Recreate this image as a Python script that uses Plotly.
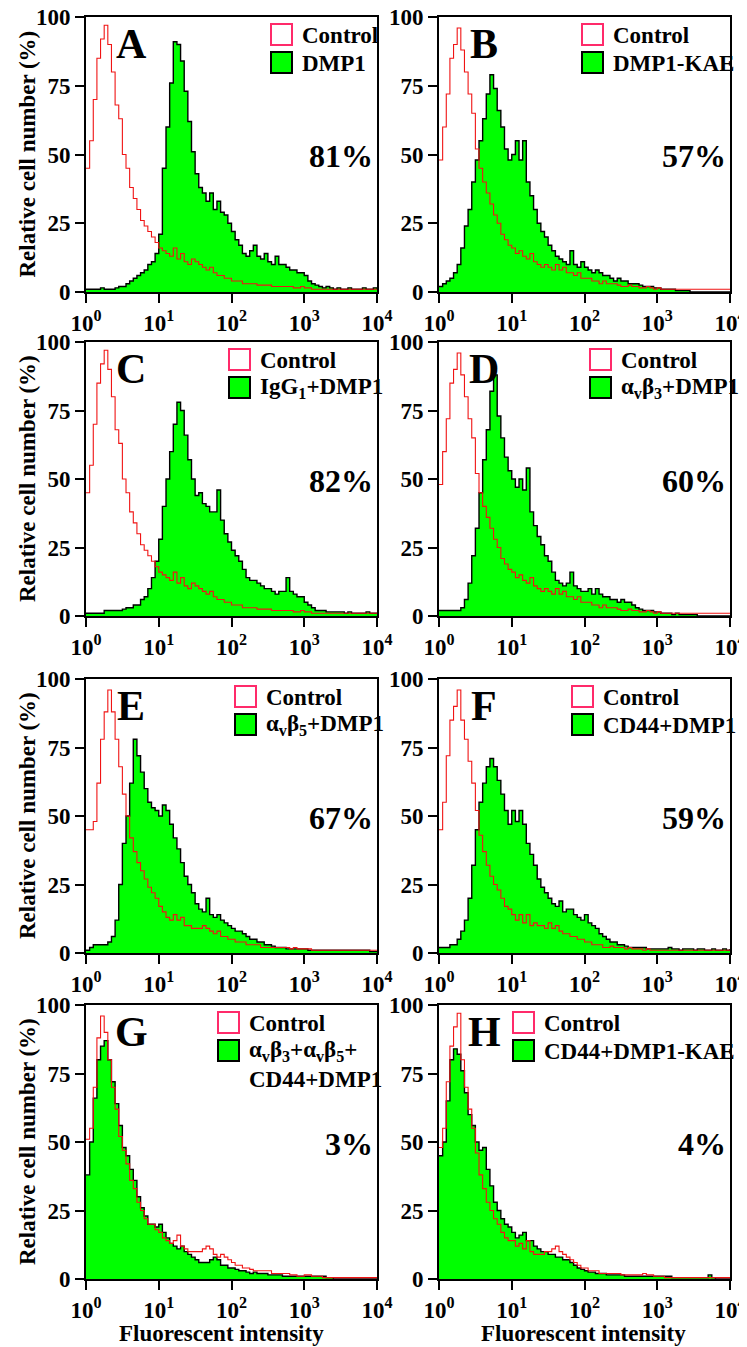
import plotly.graph_objects as go

# ---------------- data ----------------
# histogram channels: position in decades (10^0 .. 10^4), 0.05-decade bins
channel_decades = [round(0.05 * i, 2) for i in range(81)]

ctrl_AC = [45, 55, 70, 85, 92, 97, 90, 80, 68, 63,
           50, 45, 38, 34, 30, 26, 24, 22, 20, 18,
           16, 15, 14, 13, 16, 12, 14, 11, 10, 12,
           11, 10, 9, 8, 9, 7, 6, 6, 5, 5,
           4, 4, 4, 3, 3, 3, 3, 2.5, 2.5, 2.5,
           2.5, 2, 2, 2, 2, 2, 2, 1.5, 1.5, 2,
           1.5, 1.5, 1, 1, 1, 1, 1, 1, 1, 1,
           1, 1, 1, 1, 1, 1, 1, 1, 1, 1, 1]
ctrl_BD = [48, 60, 72, 85, 90, 96, 88, 80, 72, 65,
           52, 45, 40, 36, 32, 28, 25, 21, 19, 17,
           16, 14, 15, 13, 12, 14, 11, 10, 9, 10,
           9, 8, 10, 8, 9, 7, 7, 6, 7, 5,
           5, 5, 4, 4, 3, 4, 3, 3, 3, 2.5,
           2, 2, 2.5, 2, 2, 1.5, 1.5, 2, 1.5, 1,
           1.5, 1, 1, 1, 1, 1, 1, 1, 1, 1,
           1, 1, 1, 1, 1, 1, 1, 1, 1, 1, 1]
ctrl_E = [45, 45, 48, 62, 78, 88, 96, 88, 78, 68,
          58, 50, 42, 37, 33, 30, 27, 24, 22, 20,
          17, 15, 13, 12, 14, 12, 13, 10, 10, 9,
          9, 9, 10, 9, 8, 7, 8, 6, 6, 5,
          5, 4, 4, 4, 3, 3, 3, 3, 2, 2,
          2, 2, 2, 2, 2, 2, 1.5, 2, 1.5, 1.5,
          1.5, 1.5, 1, 1, 1, 1, 1, 1, 1, 1,
          1, 1, 1, 1, 1, 1, 1, 1, 1, 1, 1]
ctrl_F = [45, 55, 72, 85, 90, 96, 85, 78, 70, 62,
          52, 43, 37, 32, 28, 25, 23, 20, 17, 16,
          14, 12, 14, 11, 14, 10, 11, 10, 10, 9,
          11, 9, 10, 8, 7, 7, 6, 6, 5, 5,
          4, 4, 3, 3, 3, 2, 2, 2.5, 2, 2,
          2, 1.5, 2, 1.5, 1.5, 1.5, 1, 1.5, 1, 1,
          1, 1, 1, 1, 1, 1, 1, 1, 1, 1,
          1, 1, 1, 1, 1, 1, 1, 1, 1, 1, 1]
ctrl_G = [51, 55, 70, 88, 96, 90, 80, 70, 62, 52,
          47, 42, 36, 33, 28, 25, 22, 20, 20, 18,
          17, 15, 14, 13, 14, 16, 12, 11, 10, 10,
          10, 10, 11, 12, 11, 9, 8, 9, 8, 7,
          6, 5, 5, 4, 4, 3.5, 3, 3, 3, 3,
          3, 2, 2, 2, 2, 2, 1.5, 1.5, 1, 1,
          1.5, 1.5, 1, 1, 1, 0.5, 0.5, 0.5, 0.5, 0.5,
          0.5, 0.5, 0.5, 0.5, 0.5, 0.5, 0.5, 0.5, 0.5, 0.5, 0.5]
ctrl_H = [48, 55, 72, 85, 92, 97, 80, 70, 62, 55,
          46, 38, 33, 28, 25, 22, 20, 17, 15, 14,
          14, 12, 13, 11, 14, 10, 9, 9, 9, 10,
          10, 11, 12, 10, 9, 8, 7, 6, 5, 4,
          4, 3, 3, 3, 2, 2, 2, 2, 2, 2,
          1.5, 1.5, 1.5, 1.5, 1.5, 1.5, 2, 1.5, 1.5, 1,
          1, 1, 0.5, 0.5, 0.5, 0.5, 0.5, 0.5, 0.5, 0.5,
          0.5, 0.5, 0.5, 0.5, 0.5, 0.5, 0.5, 0.5, 0.5, 0.5, 0.5]

samp_A = [1, 1, 1, 1, 1.5, 1, 1, 1, 1.5, 2,
          2, 3, 4, 5, 6, 7, 8, 10, 11, 14,
          21, 45, 60, 76, 91, 90, 84, 73, 62, 51,
          43, 38, 36, 33, 36, 30, 33, 29, 28, 25,
          22, 19, 17, 14, 13, 15, 17, 13, 12, 14,
          11, 10, 13, 10, 10, 9, 8, 8, 7, 7,
          6, 4, 3, 2.5, 2, 1.5, 2, 1.5, 1, 1.5,
          1, 1, 1.5, 1, 1, 1, 1.5, 1, 1, 1.5, 1]
samp_B = [2, 3, 4, 5, 7, 10, 16, 24, 30, 40,
          48, 55, 63, 72, 79, 74, 66, 60, 52, 48,
          50, 55, 48, 55, 40, 35, 30, 25, 22, 20,
          17, 15, 13, 12, 11, 10, 15, 10, 9, 11,
          9, 8, 7, 8, 7, 6, 6, 5, 4, 5,
          4, 4, 3, 3, 3, 2.5, 2, 2, 2, 1.5,
          1.5, 1, 1, 1, 1, 0.5, 0.5, 0.5, 0.5, 0,
          0, 0, 0, 0, 0, 0, 0, 0, 0, 0, 0]
samp_C = [1, 1, 1, 1, 1, 2, 2, 2, 2, 2,
          2.5, 3, 3, 4, 4, 6, 7, 10, 14, 20,
          28, 40, 50, 60, 70, 78, 75, 66, 57, 50,
          44, 45, 41, 40, 38, 38, 46, 35, 30, 27,
          24, 22, 20, 17, 14, 13, 13, 12, 11, 10,
          10, 9, 8, 9, 9, 14, 9, 8, 7, 7,
          5, 4, 3, 2, 2, 2, 1.5, 1.5, 1.5, 1.5,
          1.5, 1, 1.5, 1, 1, 1, 1, 1.5, 1, 1, 1]
samp_D = [2, 2, 2, 2, 2, 2, 3, 6, 12, 22,
          32, 45, 57, 68, 82, 88, 73, 65, 58, 53,
          50, 47, 50, 46, 54, 38, 33, 29, 26, 22,
          20, 16, 13, 12, 11, 12, 16, 11, 10, 9,
          9, 10, 8, 10, 8, 7, 7, 6, 6, 5,
          6, 5, 5, 4, 3, 2.5, 2, 2, 2, 1.5,
          1.5, 1, 1, 1, 0.5, 1, 0.5, 0.5, 0.5, 0.5,
          0.5, 0, 0, 0, 0, 0, 0, 0, 0, 0, 0]
samp_E = [1, 2, 3, 3, 3, 3, 4, 6, 12, 25,
          40, 50, 62, 78, 72, 66, 60, 55, 53, 52,
          50, 54, 52, 47, 42, 38, 33, 28, 25, 22,
          18, 16, 15, 20, 14, 13, 14, 12, 11, 10,
          9, 8, 8, 7, 6, 5, 5, 4, 4, 3,
          3, 2.5, 2, 2, 2, 1.5, 1.5, 1.5, 1.5, 1.5,
          1.5, 1, 1, 1, 1, 1, 1, 1, 1, 1,
          1, 1, 1, 1, 1, 1, 1, 1, 0.5, 0.5, 0.5]
samp_F = [2, 2, 2, 3, 3, 5, 8, 12, 20, 32,
          45, 55, 62, 68, 71, 68, 63, 58, 52, 47,
          52, 48, 52, 47, 40, 36, 32, 27, 24, 22,
          20, 18, 17, 19, 15, 16, 16, 14, 13, 12,
          14, 11, 10, 9, 7, 6, 5, 4, 4, 3,
          3, 2.5, 2, 2, 2, 2, 2, 1.5, 1.5, 1.5,
          1.5, 1.5, 1.5, 2, 1.5, 1.5, 1, 1.5, 1.5, 1.5,
          1, 1.5, 1.5, 1, 1, 1.5, 1, 1, 1.5, 1, 1.5]
samp_G = [38, 50, 66, 80, 85, 87, 80, 72, 64, 56,
          48, 45, 40, 36, 30, 26, 23, 20, 20, 19,
          20, 17, 15, 13, 12, 11, 12, 10, 9, 8,
          7, 6, 6, 6, 7, 8, 7, 5, 5, 4,
          4, 3.5, 3, 3, 2.5, 2, 2.5, 2, 2, 2,
          1.5, 1.5, 1.5, 1.5, 1, 1, 1, 1, 1, 1,
          1, 1, 1, 1, 1, 1, 0.5, 0.5, 0, 0,
          0, 0, 0, 0, 0, 0, 0, 0, 0, 0, 0]
samp_H = [45, 50, 65, 80, 84, 82, 76, 68, 60, 56,
          50, 47, 48, 40, 34, 28, 25, 22, 20, 19,
          17, 15, 16, 17, 14, 14, 12, 11, 10, 10,
          9, 9, 8, 8, 7, 7, 6, 5, 4, 3.5,
          3, 2.5, 2.5, 2, 2, 2, 1.5, 1.5, 1.5, 1.5,
          1.5, 1, 1, 1, 1, 1, 1, 1, 1, 1,
          1, 1, 1, 1, 0.5, 0.5, 0.5, 0.5, 0.5, 0.5,
          0.5, 0.5, 0.5, 0.5, 1.5, 0.5, 0, 0, 0, 0, 0]

panel_letters = ["A", "B", "C", "D", "E", "F", "G", "H"]
percent_labels = ["81%", "57%", "82%", "60%", "67%", "59%", "3%", "4%"]
control_label = "Control"
sample_labels = ["DMP1", "DMP1-KAE", "IgG<sub>1</sub>+DMP1",
                 "α<sub>v</sub>β<sub>3</sub>+DMP1", "α<sub>v</sub>β<sub>5</sub>+DMP1",
                 "CD44+DMP1",
                 "α<sub>v</sub>β<sub>3</sub>+α<sub>v</sub>β<sub>5</sub>+|CD44+DMP1",
                 "CD44+DMP1-KAE"]
controls = [ctrl_AC, ctrl_BD, ctrl_AC, ctrl_BD, ctrl_E, ctrl_F, ctrl_G, ctrl_H]
samples = [samp_A, samp_B, samp_C, samp_D, samp_E, samp_F, samp_G, samp_H]
x_tick_vals = [1, 10, 100, 1000, 10000]
x_tick_text = ["10<sup>0</sup>", "10<sup>1</sup>", "10<sup>2</sup>", "10<sup>3</sup>", "10<sup>4</sup>"]
y_tick_vals = [0, 25, 50, 75, 100]
y_title = "Relative cell number (%)"
x_title = "Fluorescent intensity"

# ---------------- layout geometry (page pixels) ----------------
PAGE_W, PAGE_H = 747, 1347
OFF = 8                      # default body margin of the html page
W, H = PAGE_W - OFF, PAGE_H - OFF
col_left = [86, 439]
col_right = [377, 730]
row_top = [17, 342, 679, 1005]
row_bot = [292, 616, 953, 1279]
legend_dx = [185, 143, 143, 151, 149, 133, 132, 74]

FONT = "Liberation Serif"
GREEN = "#00FF00"
RED = "#F01414"
PINK = "#FF2A6A"


def px(x):
    return (x - OFF) / W


def py(y):
    return 1 - (y - OFF) / H


fig = go.Figure()
shapes = []
annots = []

x_vals = [10 ** d for d in channel_decades]

for i in range(8):
    r, c = divmod(i, 2)
    ax = "" if i == 0 else str(i + 1)
    xa, ya = "x" + ax, "y" + ax
    L, R, T, B = col_left[c], col_right[c], row_top[r], row_bot[r]

    fig.add_trace(go.Scatter(x=x_vals, y=samples[i], mode="lines", line_shape="hv",
                             line=dict(color="black", width=1.4), fill="tozeroy",
                             fillcolor=GREEN, xaxis=xa, yaxis=ya, showlegend=False,
                             hoverinfo="skip"))
    fig.add_trace(go.Scatter(x=x_vals, y=controls[i], mode="lines", line_shape="hv",
                             line=dict(color=RED, width=1.1), xaxis=xa, yaxis=ya,
                             showlegend=False, hoverinfo="skip"))

    axis_common = dict(showline=True, linewidth=2, linecolor="black", mirror=True,
                       ticks="outside", ticklen=9, tickwidth=2, tickcolor="black",
                       showgrid=False, zeroline=False, automargin=False,
                       ticklabeloverflow="allow")
    fig.update_layout(**{
        "xaxis" + ax: dict(axis_common, type="log", range=[0, 4],
                           domain=[px(L), px(R)], anchor=ya,
                           tickvals=x_tick_vals, ticktext=x_tick_text,
                           tickfont=dict(family=FONT, size=23, color="black", weight="bold")),
        "yaxis" + ax: dict(axis_common, range=[0, 100], domain=[py(B), py(T)], anchor=xa,
                           tickvals=y_tick_vals,
                           tickfont=dict(family=FONT, size=23, color="black", weight="bold")),
    })

    # panel letter
    annots.append(dict(x=px(L + 45), y=py(T + 27), xref="paper", yref="paper",
                       text=panel_letters[i], showarrow=False, xanchor="center",
                       yanchor="middle",
                       font=dict(family=FONT, size=42, color="black", weight="bold")))
    # percent
    annots.append(dict(x=px(R - 2), y=py(T + 139), xref="paper", yref="paper",
                       text=percent_labels[i], showarrow=False, xanchor="right",
                       yanchor="middle",
                       font=dict(family=FONT, size=32, color="black", weight="bold")))
    # legend
    sx = L + legend_dx[i]
    shapes.append(dict(type="rect", xref="paper", yref="paper",
                       x0=px(sx), x1=px(sx + 21), y0=py(T + 28), y1=py(T + 7),
                       line=dict(color=PINK, width=2), fillcolor="white"))
    shapes.append(dict(type="rect", xref="paper", yref="paper",
                       x0=px(sx), x1=px(sx + 21), y0=py(T + 56), y1=py(T + 35),
                       line=dict(color="black", width=2), fillcolor=GREEN))
    annots.append(dict(x=px(sx + 29), y=py(T + 18), xref="paper", yref="paper",
                       text=control_label, showarrow=False, xanchor="left", yanchor="middle",
                       font=dict(family=FONT, size=23, color="black", weight="bold")))
    for k, line in enumerate(sample_labels[i].split("|")):
        annots.append(dict(x=px(sx + 29), y=py(T + 46 + 28 * k), xref="paper", yref="paper",
                           text=line, showarrow=False, xanchor="left", yanchor="middle",
                           font=dict(family=FONT, size=23, color="black", weight="bold")))

# axis titles
for r in range(4):
    annots.append(dict(x=px(27), y=py((row_top[r] + row_bot[r]) / 2), xref="paper",
                       yref="paper", text=y_title, textangle=-90, showarrow=False,
                       xanchor="center", yanchor="middle",
                       font=dict(family=FONT, size=23, color="black", weight="bold")))
for cx in [221, 583]:
    annots.append(dict(x=px(cx), y=py(1333), xref="paper", yref="paper", text=x_title,
                       showarrow=False, xanchor="center", yanchor="middle",
                       font=dict(family=FONT, size=23, color="black", weight="bold")))

fig.update_layout(width=W, height=H, margin=dict(l=0, r=0, t=0, b=0),
                  paper_bgcolor="white", plot_bgcolor="white",
                  shapes=shapes, annotations=annots, showlegend=False)

fig.write_html("out.html")
